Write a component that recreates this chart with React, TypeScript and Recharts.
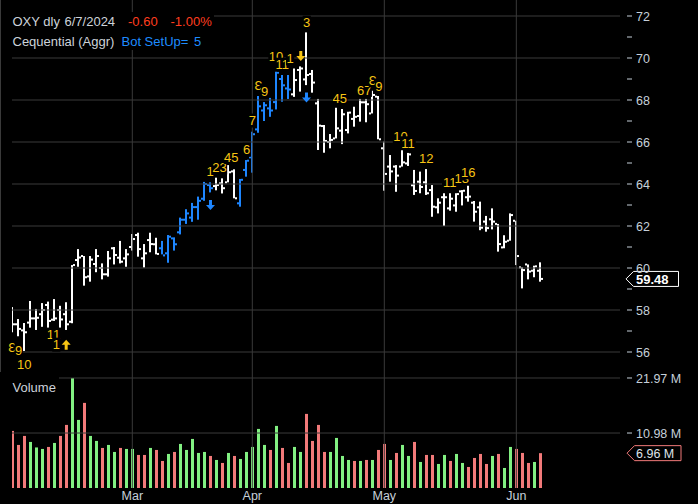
import React from "react";
import { ComposedChart, BarChart, Bar, XAxis, YAxis, ReferenceLine, ReferenceDot } from "recharts";

// ---------- data ----------
const opens = [57.95,57.32,57.03,57.4,57.6,57.8,58.24,57.54,58.0,57.8,
  57.44,60.38,60.57,59.6,60.19,60.0,59.7,60.94,60.49,60.46,
  61.0,61.57,60.46,61.33,61.13,60.94,60.7,61.41,61.7,62.3,
  62.4,62.9,63.3,63.95,63.9,64.03,64.08,64.6,63.08,64.67,
  65.27,66.6,67.5,67.6,67.9,69.0,68.55,68.27,69.43,68.98,
  69.24,67.84,66.76,66.0,66.17,66.54,66.57,67.1,67.24,67.89,
  67.36,68.16,65.7,64.83,64.83,64.83,64.98,63.94,64.11,64.08,
  63.71,62.89,63.37,62.84,62.98,63.65,63.37,63.11,62.89,62.21,
  62.32,62.1,60.98,61.3,62.25,60.03,60.17,59.87,59.87];
const highs = [58.14,57.57,57.38,58.43,58.05,58.33,58.4,58.52,58.2,58.37,
  60.14,60.9,60.57,60.57,60.9,60.22,60.81,61.0,61.29,60.9,
  61.62,61.68,61.14,61.68,61.44,61.29,61.57,61.46,62.4,62.8,
  63.1,63.4,64.1,64.08,64.3,64.27,64.9,64.7,64.24,65.14,
  66.49,68.19,67.9,68.1,69.55,69.19,69.19,69.5,69.6,71.22,
  69.43,68.05,66.81,66.38,67.63,67.57,67.44,67.68,68.05,68.05,
  68.44,68.19,66.02,65.38,64.9,65.62,65.48,64.67,64.59,64.71,
  63.95,63.32,63.56,63.56,63.56,63.71,63.95,63.19,63.16,62.48,
  62.84,62.1,61.56,62.6,62.25,60.03,60.17,60.11,60.27];
const lows = [56.94,56.75,56.05,57.16,57.05,57.2,57.05,57.48,56.97,57.05,
  57.37,60.06,59.16,59.35,59.8,59.46,59.59,60.17,60.22,60.06,
  60.83,60.54,60.02,60.75,60.65,60.65,60.25,60.83,61.6,62.1,
  62.2,62.3,63.2,63.6,63.7,63.55,64.08,63.32,62.92,64.35,
  64.54,66.44,67.0,67.2,67.55,67.92,68.05,68.15,68.4,68.71,
  68.35,65.62,65.49,65.7,66.17,65.9,66.41,66.73,66.97,66.94,
  67.36,66.13,63.68,64.11,63.63,64.83,64.86,63.48,63.56,63.48,
  62.44,62.6,62.0,62.73,62.68,62.98,63.16,62.21,61.8,61.73,
  61.84,60.78,60.94,61.3,60.14,59.03,59.46,59.56,59.35];
const closes = [57.32,57.1,56.94,57.6,57.63,58.0,57.48,57.6,57.55,57.32,
  60.14,60.5,59.56,60.4,60.57,59.7,60.46,60.62,60.3,60.65,
  61.38,60.9,60.7,61.14,60.67,60.6,61.49,61.13,62.3,62.6,
  62.9,63.2,64.0,63.8,63.95,63.8,64.56,63.32,64.2,65.11,
  66.37,67.7,67.75,67.5,69.3,68.7,68.5,68.95,69.5,69.19,
  68.83,66.78,66.05,66.1,66.65,67.32,67.4,67.2,67.89,67.8,
  68.24,66.13,64.48,64.6,64.4,65.03,65.41,63.67,63.86,63.56,
  62.92,63.11,63.37,63.3,63.52,63.68,63.4,62.68,61.92,61.9,
  62.21,61.14,61.25,62.52,60.57,59.9,59.83,60.08,59.48];
// volume in millions
const volumes = [11.4,8.6,10.4,9.2,8.1,7.8,8.2,9.0,10.4,12.6,
  21.97,13.6,17.0,10.4,9.4,8.0,8.6,7.2,8.0,7.8,
  7.8,6.6,6.6,8.0,7.6,5.4,6.8,7.2,8.8,7.6,
  9.8,7.0,7.2,6.4,5.6,5.0,7.0,6.4,5.8,7.2,
  8.2,11.8,8.6,7.6,12.4,8.0,5.0,8.2,7.2,14.8,
  9.4,12.6,7.2,7.2,10.0,6.4,5.6,5.4,5.4,5.6,
  5.6,7.6,8.8,5.6,7.0,8.6,6.4,9.2,5.2,6.6,
  6.6,4.8,6.6,5.4,6.8,5.0,4.2,6.0,6.8,4.8,
  6.4,6.8,4.0,8.2,7.8,7.0,5.0,5.2,6.96];
const volDir = "ddduuududd" + "uuduuduudu" + "uddudduduu" + "uuudududuu" + "uuududduud" +
  "ddduuuudud" + "udduduudud" + "duuduudddd" + "uduudddud";
const blueBars = [25,26,27,28,29,30,31,32,33,38,39,40,41,42,43,44,45,46];

const monthTicks = [20, 40, 62, 84];
const monthLabels = ["Mar", "Apr", "May", "Jun"];
const priceTicks = [56,57,58,59,60,61,62,63,64,65,66,67,68,69,70,71,72];
const priceGrid = [56,58,60,62,64,66,68,70,72];
const volumeTicks = [10.98, 21.97];

type Ann = { i: number; p: number; t: string; kind?: "text" | "upY" | "downY" | "downB" };
const annotations: Ann[] = [
  { i: 0, p: 56.21, t: "Ɛ" }, { i: 1.05, p: 56.1, t: "9" }, { i: 2, p: 55.4, t: "10" },
  { i: 6.87, p: 56.83, t: "11" }, { i: 7.33, p: 56.35, t: "1" }, { i: 8.98, p: 56.35, t: "", kind: "upY" },
  { i: 32.98, p: 64.59, t: "1" }, { i: 34.53, p: 64.79, t: "23" }, { i: 36.5, p: 65.29, t: "45" },
  { i: 39.07, p: 65.63, t: "6" }, { i: 40, p: 67.02, t: "7" }, { i: 41, p: 68.68, t: "Ɛ" },
  { i: 42.07, p: 68.4, t: "9" }, { i: 43.95, p: 70.06, t: "10" }, { i: 44.98, p: 69.68, t: "11" },
  { i: 46.3, p: 69.98, t: "1" }, { i: 48.08, p: 70.1, t: "", kind: "downY" }, { i: 49.07, p: 71.68, t: "3" },
  { i: 49.03, p: 68.12, t: "", kind: "downB" }, { i: 33.03, p: 63.0, t: "", kind: "downB" },
  { i: 54.57, p: 68.08, t: "45" }, { i: 58.65, p: 68.48, t: "67" }, { i: 60.08, p: 68.93, t: "Ɛ" },
  { i: 61.08, p: 68.65, t: "9" }, { i: 64.7, p: 66.25, t: "10" }, { i: 65.95, p: 65.94, t: "11" },
  { i: 69.0, p: 65.2, t: "12" }, { i: 72.9, p: 64.09, t: "11" }, { i: 74.92, p: 64.25, t: "13" },
  { i: 76, p: 64.56, t: "16" },
];

// ---------- styles ----------
const X_DOMAIN: [number, number] = [-0.05, 101.28];
const P_DOMAIN: [number, number] = [55.048, 72.762];
const V_DOMAIN: [number, number] = [0, 23.168];
const GRID = "#3a3a3a";
const AXIS_TXT = "#c6d0da";
const BLUE = "#1e86ff";
const YELLOW = "#f7c514";
const GREEN = "#82f082";
const RED = "#f27a7a";
const FONT = "'Liberation Sans', Arial, sans-serif";

const data = opens.map((o, i) => ({
  i, open: o, high: highs[i], low: lows[i], close: closes[i],
  vol: volumes[i], up: volDir[i] === "u", blue: blueBars.includes(i),
}));

const OhlcShape = (props: any) => {
  const { x, y, width, height, payload } = props;
  if (x == null || y == null || !payload) return null;
  const cx = Math.round(x + width / 2);
  const top = Math.min(y, y + height);
  const h = Math.abs(height);
  const range = payload.high - payload.low || 1;
  const yo = top + ((payload.high - payload.open) / range) * h;
  const yc = top + ((payload.high - payload.close) / range) * h;
  const col = payload.blue ? BLUE : "#ffffff";
  return (
    <g>
      <rect x={cx - 1} y={top} width={2} height={Math.max(h, 1)} fill={col} />
      <rect x={cx - 3} y={yo - 1} width={2} height={2} fill={col} />
      <rect x={cx + 1} y={yc - 1} width={2} height={2} fill={col} />
    </g>
  );
};

const VolShape = (props: any) => {
  const { x, y, width, height, payload } = props;
  if (x == null || y == null || !payload) return null;
  const cx = Math.round(x + width / 2);
  return <rect x={cx - 1} y={y} width={3} height={Math.max(height, 0)} fill={payload.up ? GREEN : RED} />;
};

const PriceTick = (props: any) => {
  const { x, y, payload } = props;
  const v = payload.value;
  return (
    <g>
      <line x1={x - 1} x2={x + 4} y1={y} y2={y} stroke={AXIS_TXT} strokeWidth={1} />
      {v % 2 === 0 ? (
        <text x={x + 8} y={y} dy="0.36em" fill={AXIS_TXT} fontSize={12.5} fontFamily={FONT}>{v}</text>
      ) : null}
    </g>
  );
};

const VolTick = (props: any) => {
  const { x, y, payload } = props;
  return (
    <g>
      <line x1={x - 1} x2={x + 4} y1={y} y2={y} stroke={AXIS_TXT} strokeWidth={1} />
      <text x={x + 8} y={y} dy="0.36em" fill={AXIS_TXT} fontSize={12.5} fontFamily={FONT}>{payload.value.toFixed(2)} M</text>
    </g>
  );
};

const MonthTick = (props: any) => {
  const { x, y, payload } = props;
  const idx = monthTicks.indexOf(payload.value);
  return (
    <text x={x} y={y} dy="0.3em" textAnchor="middle" fill={AXIS_TXT} fontSize={12.5} fontFamily={FONT}>
      {idx >= 0 ? monthLabels[idx] : ""}
    </text>
  );
};

const AnnShape = (a: Ann) => (props: any) => {
  const { cx, cy } = props;
  if (cx == null || cy == null) return null;
  if (a.kind === "upY") {
    return (
      <path d={`M${cx - 1.5} ${cy + 5} L${cx - 1.5} ${cy} L${cx - 4.5} ${cy} L${cx} ${cy - 5} L${cx + 4.5} ${cy} L${cx + 1.5} ${cy} L${cx + 1.5} ${cy + 5} Z`} fill={YELLOW} />
    );
  }
  if (a.kind === "downY" || a.kind === "downB") {
    const c = a.kind === "downY" ? YELLOW : BLUE;
    return (
      <path d={`M${cx - 1.5} ${cy - 5} L${cx - 1.5} ${cy} L${cx - 4.5} ${cy} L${cx} ${cy + 5} L${cx + 4.5} ${cy} L${cx + 1.5} ${cy} L${cx + 1.5} ${cy - 5} Z`} fill={c} />
    );
  }
  const w = a.t.length * 7.2 + 1;
  return (
    <g>
      <rect x={cx - w / 2} y={cy - 7} width={w} height={14} fill="#000" />
      <text x={cx} y={cy} dy="0.36em" textAnchor="middle" fill={YELLOW} fontSize={13} fontFamily={FONT}>{a.t}</text>
    </g>
  );
};

const LastPriceLabel = (props: any) => {
  const vb = props.viewBox || {};
  const x0 = vb.x + vb.width + 6;
  const y = vb.y;
  return (
    <g>
      <path d={`M${x0} ${y} L${x0 + 7.5} ${y - 7.5} L${x0 + 52.5} ${y - 7.5} L${x0 + 52.5} ${y + 7.5} L${x0 + 7.5} ${y + 7.5} Z`} fill="#000" stroke="#ffffff" strokeWidth={1} />
      <text x={x0 + 10} y={y} dy="0.36em" fill="#ffffff" fontWeight="bold" fontSize={13} fontFamily={FONT}>{closes[closes.length - 1].toFixed(2)}</text>
    </g>
  );
};

const LastVolLabel = (props: any) => {
  const vb = props.viewBox || {};
  const x0 = vb.x + vb.width + 7;
  const y = vb.y;
  return (
    <g>
      <path d={`M${x0} ${y} L${x0 + 7.5} ${y - 7.5} L${x0 + 54} ${y - 7.5} L${x0 + 54} ${y + 7.5} L${x0 + 7.5} ${y + 7.5} Z`} fill="#000" stroke={RED} strokeWidth={1} />
      <text x={x0 + 9} y={y} dy="0.36em" fill="#dfe4ea" fontSize={12.5} fontFamily={FONT}>{volumes[volumes.length - 1].toFixed(2)} M</text>
    </g>
  );
};

export default function App() {
  return (
    <div style={{ position: "fixed", left: 0, top: 0, width: 698, height: 504, background: "#000", overflow: "hidden" }}>
      <div style={{ position: "absolute", left: 0, top: 0 }}>
        <ComposedChart width={698} height={372} data={data} margin={{ top: 0, right: 0, bottom: 0, left: 12 }}>
          <XAxis type="number" dataKey="i" domain={X_DOMAIN} allowDataOverflow hide />
          <YAxis yAxisId="p" orientation="right" width={78} type="number" domain={P_DOMAIN} allowDataOverflow
            ticks={priceTicks} interval={0} axisLine={false} tickLine={false} tick={<PriceTick />} />
          {priceGrid.map((v) => (
            <ReferenceLine key={"g" + v} yAxisId="p" y={v} stroke={GRID} strokeWidth={1} />
          ))}
          {monthTicks.map((m) => (
            <ReferenceLine key={"m" + m} yAxisId="p" x={m} stroke={GRID} strokeWidth={1} />
          ))}
          <Bar yAxisId="p" dataKey={(d: any) => [d.low, d.high]} shape={<OhlcShape />} isAnimationActive={false} />
          {annotations.map((a, k) => (
            <ReferenceDot key={"a" + k} yAxisId="p" x={a.i} y={a.p} r={0} shape={AnnShape(a)} />
          ))}
          <ReferenceLine yAxisId="p" y={closes[closes.length - 1]} stroke="none" label={<LastPriceLabel />} />
        </ComposedChart>
      </div>
      <div style={{ position: "absolute", left: 0, top: 372 }}>
        <BarChart width={698} height={132} data={data} margin={{ top: 0, right: 0, bottom: 0, left: 12 }}>
          <XAxis type="number" dataKey="i" domain={X_DOMAIN} allowDataOverflow ticks={monthTicks} interval={0}
            height={16} axisLine={false} tickLine={false} tick={<MonthTick />} />
          <YAxis yAxisId="v" orientation="right" width={78} type="number" domain={V_DOMAIN} allowDataOverflow
            ticks={volumeTicks} interval={0} axisLine={false} tickLine={false} tick={<VolTick />} />
          {volumeTicks.map((v) => (
            <ReferenceLine key={"vg" + v} yAxisId="v" y={v} stroke={GRID} strokeWidth={1} />
          ))}
          {monthTicks.map((m) => (
            <ReferenceLine key={"vm" + m} yAxisId="v" x={m} stroke={GRID} strokeWidth={1} />
          ))}
          <Bar yAxisId="v" dataKey="vol" shape={<VolShape />} isAnimationActive={false} />
          <ReferenceLine yAxisId="v" y={volumes[volumes.length - 1]} stroke="none" label={<LastVolLabel />} />
        </BarChart>
      </div>
      <svg width={698} height={504} style={{ position: "absolute", left: 0, top: 0, pointerEvents: "none" }}>
        <line x1={0.5} x2={0.5} y1={0} y2={372} stroke="#3a3a3a" />
        <rect x={1} y={12} width={213} height={19} fill="#000" />
        <rect x={1} y={31} width={202} height={19} fill="#000" />
        <g fontFamily={FONT} fontSize={13}>
          <text x={12.5} y={26} fill="#cdd3da">OXY dly</text>
          <text x={64.5} y={26} fill="#cdd3da">6/7/2024</text>
          <text x={128} y={26} fill="#ff3d1f">-0.60</text>
          <text x={170.5} y={26} fill="#ff3d1f">-1.00%</text>
          <text x={12.5} y={45.5} fill="#cdd3da">Cequential (Aggr)</text>
          <text x={121.5} y={45.5} fill="#1e8cff">Bot SetUp=</text>
          <text x={194} y={45.5} fill="#1e8cff">5</text>
        </g>
        <rect x={1} y={375} width={58} height={19} fill="#000" />
        <text x={12.5} y={391.5} fill="#cdd3da" fontFamily={FONT} fontSize={13}>Volume</text>
      </svg>
    </div>
  );
}
